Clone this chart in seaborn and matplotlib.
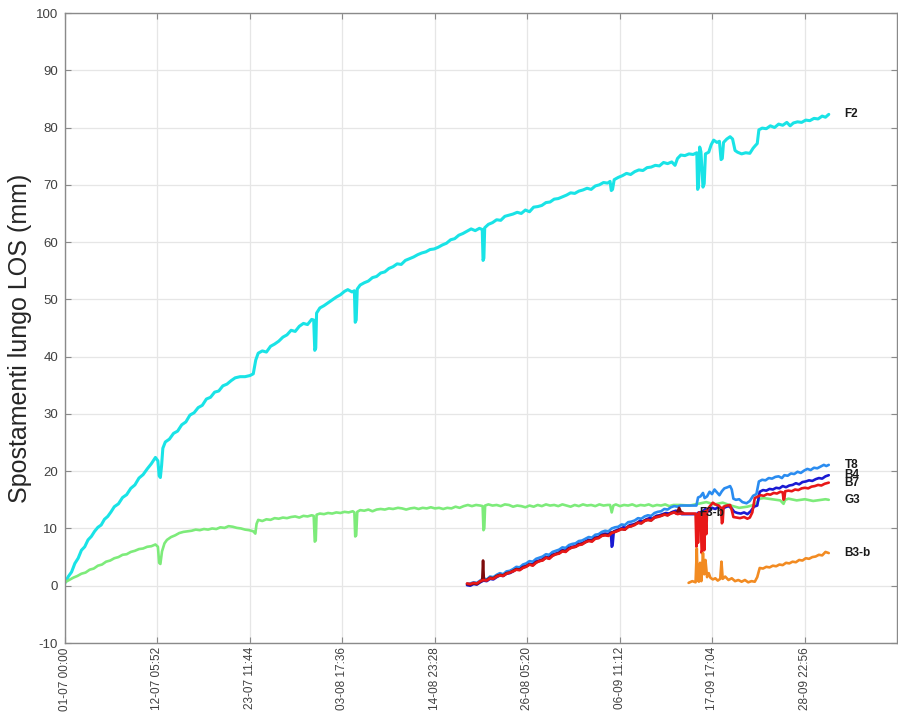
import matplotlib
matplotlib.use("Agg")
import matplotlib.pyplot as plt
import pandas as pd
import seaborn as sns

# ---------------------------------------------------------------------------
# Displacement along the line of sight, in mm; time in days from 01-07 00:00
# ---------------------------------------------------------------------------
f2_days = [0.0, 0.4, 0.8, 1.2, 1.6, 2.0, 2.4, 2.8, 3.2, 3.6, 4.0, 4.4, 4.8, 5.2, 5.6,
           6.0, 6.5, 7.0, 7.5, 8.0, 8.5, 9.0, 9.5, 10.0, 10.5, 11.0, 11.3, 11.45, 11.6,
           11.75, 11.9, 12.2, 12.7, 13.2, 13.7, 14.2, 14.7, 15.2, 15.7, 16.2, 16.7, 17.2,
           17.7, 18.2, 18.7, 19.2, 19.7, 20.2, 20.7, 21.3, 21.9, 22.5, 22.9, 23.2, 23.5,
           24.0, 24.5, 25.0, 25.5, 26.0, 26.5, 27.0, 27.5, 28.0, 28.5, 29.0, 29.5, 30.0,
           30.25, 30.38, 30.5, 30.6, 31.0, 31.5, 32.0, 32.5, 33.0, 33.5, 34.0, 34.4, 34.9,
           35.2, 35.3, 35.42, 35.55, 35.9, 36.4, 36.9, 37.4, 37.9, 38.4, 38.9, 39.4, 39.9,
           40.4, 40.9, 41.4, 41.9, 42.4, 42.9, 43.4, 43.9, 44.4, 44.9, 45.4, 45.9, 46.4,
           46.9, 47.4, 47.9, 48.4, 48.9, 49.4, 49.9, 50.4, 50.75, 50.85, 50.95, 51.05,
           51.5, 52.0, 52.5, 53.0, 53.5, 54.0, 54.5, 55.0, 55.5, 56.0, 56.5, 57.0, 57.5,
           58.0, 58.5, 59.0, 59.5, 60.0, 60.5, 61.0, 61.5, 62.0, 62.5, 63.0, 63.5, 64.0,
           64.5, 65.0, 65.5, 66.0, 66.3, 66.45, 66.6, 66.8, 67.3, 67.8, 68.3, 68.8, 69.3,
           69.8, 70.3, 70.8, 71.3, 71.8, 72.3, 72.8, 73.3, 73.8, 74.2, 74.5, 74.9, 75.4,
           75.9, 76.4, 76.85, 76.95, 77.05, 77.2, 77.35, 77.6, 77.75, 77.9, 78.3, 78.6,
           78.9, 79.3, 79.6, 79.8, 79.95, 80.1, 80.5, 80.9, 81.2, 81.5, 81.8, 82.3, 82.8,
           83.3, 83.7, 84.0, 84.2, 84.4, 84.8, 85.3, 85.8, 86.3, 86.8, 87.3, 87.8, 88.2,
           88.6, 89.1, 89.6, 90.1, 90.6, 91.1, 91.6, 92.1, 92.5, 92.9]
f2_mm = [0.5, 1.6, 2.4, 3.9, 4.8, 6.2, 6.8, 8.0, 8.6, 9.5, 10.2, 10.6, 11.6, 12.1, 12.9,
         13.8, 14.3, 15.4, 15.9, 17.0, 17.6, 18.8, 19.4, 20.4, 21.3, 22.4, 21.8, 19.2, 18.9,
         21.0, 24.0, 25.1, 25.6, 26.6, 27.0, 28.1, 28.6, 29.8, 30.2, 31.1, 31.5, 32.6,
         32.9, 33.8, 34.0, 34.9, 35.2, 35.8, 36.3, 36.5, 36.5, 36.7, 37.0, 39.4, 40.6,
         41.0, 40.8, 41.8, 42.2, 42.7, 43.4, 43.8, 44.6, 44.4, 45.3, 45.8, 45.6, 46.5,
         46.4, 41.1, 41.5, 47.6, 48.5, 48.9, 49.4, 49.9, 50.4, 50.8, 51.4, 51.7, 51.3,
         51.5, 46.0, 46.4, 51.8, 52.5, 52.9, 53.2, 53.8, 54.0, 54.6, 54.8, 55.4, 55.7,
         56.2, 56.1, 56.8, 57.1, 57.4, 57.8, 58.1, 58.3, 58.7, 58.8, 59.1, 59.5, 59.8,
         60.4, 60.6, 61.2, 61.5, 61.9, 62.3, 62.0, 62.4, 62.2, 56.8, 57.2, 62.5,
         63.1, 63.4, 63.9, 63.8, 64.5, 64.7, 64.9, 65.2, 65.0, 65.6, 65.3, 66.1, 66.2,
         66.4, 66.9, 67.0, 67.5, 67.6, 67.9, 68.2, 68.6, 68.5, 68.9, 69.1, 69.4, 69.2,
         69.8, 70.0, 70.4, 70.3, 70.6, 69.0, 69.2, 70.9, 71.3, 71.6, 72.0, 71.8, 72.3,
         72.6, 72.5, 73.0, 73.1, 73.4, 73.3, 73.9, 73.7, 74.0, 73.4, 74.6, 75.2, 75.1,
         75.4, 75.3, 75.6, 69.2, 69.6, 76.6, 75.8, 69.6, 70.2, 75.4, 75.7, 77.0,
         77.8, 77.4, 77.6, 74.4, 74.6, 77.4, 78.0, 78.4, 78.0, 76.0, 75.7, 75.4, 75.6,
         75.5, 76.4, 76.9, 77.2, 79.6, 79.9, 79.8, 80.3, 80.0, 80.6, 80.4, 80.9, 80.3,
         80.8, 81.0, 80.9, 81.3, 81.2, 81.6, 81.5, 82.0, 81.8, 82.3]

g3_days = [0.0, 0.5, 1.0, 1.5, 2.0, 2.5, 3.0, 3.5, 4.0, 4.5, 5.0, 5.5, 6.0, 6.5, 7.0, 7.5,
           8.0, 8.5, 9.0, 9.5, 10.0, 10.5, 11.0, 11.3, 11.45, 11.6, 11.8, 12.1, 12.4, 12.9,
           13.4, 13.9, 14.4, 14.9, 15.4, 15.9, 16.4, 16.9, 17.4, 17.9, 18.4, 18.9, 19.4,
           19.9, 20.4, 20.9, 21.4, 21.9, 22.4, 22.9, 23.15, 23.3, 23.5, 24.0, 24.5, 25.0,
           25.5, 26.0, 26.5, 27.0, 27.5, 28.0, 28.5, 29.0, 29.5, 30.0, 30.25, 30.38, 30.5,
           30.6, 31.0, 31.5, 32.0, 32.5, 33.0, 33.5, 34.0, 34.5, 35.0, 35.2, 35.3, 35.42,
           35.55, 35.9, 36.4, 36.9, 37.4, 37.9, 38.4, 38.9, 39.4, 39.9, 40.5, 41.0, 41.5,
           42.0, 42.5, 43.0, 43.5, 44.0, 44.5, 45.0, 45.5, 46.0, 46.5, 47.0, 47.5, 48.0,
           48.5, 49.0, 49.5, 50.0, 50.5, 50.8, 50.9, 51.0, 51.1, 51.5, 52.0, 52.5, 53.0,
           53.5, 54.0, 54.5, 55.0, 55.5, 56.0, 56.5, 57.0, 57.5, 58.0, 58.5, 59.0, 59.5,
           60.0, 60.5, 61.0, 61.5, 62.0, 62.5, 63.0, 63.5, 64.0, 64.5, 65.0, 65.5, 66.0,
           66.3, 66.5, 66.7, 67.0, 67.5, 68.0, 68.5, 69.0, 69.5, 70.0, 70.5, 71.0, 71.5,
           72.0, 72.5, 73.0, 73.5, 74.0, 74.8, 76.0, 77.0, 78.0, 79.0, 80.0, 81.0, 82.0,
           83.0, 84.0, 84.5, 85.0, 86.0, 87.0, 87.4, 87.6, 88.0, 89.0, 90.0, 91.0, 92.0,
           92.5, 92.9]
g3_mm = [0.6, 1.0, 1.4, 1.7, 2.1, 2.3, 2.8, 3.0, 3.5, 3.7, 4.2, 4.4, 4.8, 5.0, 5.4, 5.5,
         5.9, 6.1, 6.4, 6.5, 6.8, 6.9, 7.2, 6.8, 4.0, 3.8, 6.0, 7.4, 8.0, 8.5,
         8.8, 9.2, 9.4, 9.5, 9.6, 9.8, 9.7, 9.9, 9.8, 10.0, 9.9, 10.2, 10.1,
         10.4, 10.3, 10.1, 10.0, 9.8, 9.7, 9.5, 9.1, 10.8, 11.5, 11.3, 11.6, 11.5,
         11.8, 11.7, 11.9, 11.8, 12.0, 12.1, 11.9, 12.2, 12.1, 12.3, 12.2, 7.7, 7.9,
         12.4, 12.6, 12.5, 12.7, 12.6, 12.8, 12.7, 12.9, 12.8, 13.0, 12.8, 8.6, 8.8,
         12.9, 13.2, 13.1, 13.3, 13.0, 13.3, 13.4, 13.3, 13.5, 13.4, 13.6, 13.5, 13.3,
         13.5, 13.6, 13.4, 13.6, 13.5, 13.7, 13.5, 13.6, 13.4, 13.6, 13.5, 13.8, 13.6,
         13.9, 14.1, 13.9, 14.1, 14.0, 13.9, 9.7, 10.0, 14.0, 14.2, 14.0, 14.1, 13.9,
         14.2, 14.1, 13.8, 14.0, 13.9, 13.7, 14.0, 13.8, 14.1, 13.9, 14.2, 14.0, 14.1,
         13.9, 14.2, 14.0, 13.8, 14.1, 13.9, 14.2, 14.0, 14.1, 13.9, 14.2, 14.0, 14.1,
         14.1, 12.8, 14.0, 14.2, 13.9, 14.1, 14.0, 14.2, 13.9, 14.1, 14.0, 14.2, 13.9,
         14.1, 14.0, 14.2, 13.9, 14.1, 14.1, 14.0, 14.3, 14.6, 14.2, 14.5, 14.0, 13.6,
         13.8, 14.2, 15.2, 15.3, 15.1, 14.9, 14.3, 15.0, 15.2, 14.9, 15.1, 14.8, 15.0,
         15.1, 15.0]

t8_days = [48.9, 49.3, 49.7, 50.1, 50.5, 50.9, 51.3, 51.7, 52.1, 52.5, 52.9, 53.3, 53.7,
           54.1, 54.5, 54.9, 55.3, 55.7, 56.1, 56.5, 56.9, 57.3, 57.7, 58.1, 58.5, 58.9,
           59.3, 59.7, 60.1, 60.5, 60.9, 61.3, 61.7, 62.1, 62.5, 62.9, 63.3, 63.7, 64.1,
           64.5, 64.9, 65.3, 65.7, 66.1, 66.5, 66.9, 67.3, 67.7, 68.1, 68.5, 68.9, 69.3,
           69.7, 70.1, 70.5, 70.9, 71.3, 71.7, 72.1, 72.5, 72.9, 73.3, 73.7, 74.1, 74.5,
           74.9, 76.8, 77.0, 77.3, 77.6, 77.8, 78.1, 78.4, 78.7, 79.0, 79.3, 79.6, 79.9,
           80.2, 80.6, 80.9, 81.1, 81.3, 81.6, 82.0, 82.4, 82.9, 83.3, 83.7, 84.1, 84.4,
           84.8, 85.2, 85.6, 86.0, 86.4, 86.8, 87.2, 87.5, 87.9, 88.3, 88.7, 89.1, 89.5,
           89.9, 90.3, 90.7, 91.1, 91.5, 91.9, 92.3, 92.6, 92.9]
t8_mm = [0.3, 0.4, 0.6, 0.5, 0.9, 1.3, 1.1, 1.6, 1.5, 1.9, 2.2, 2.0, 2.5,
         2.6, 2.9, 3.3, 3.2, 3.7, 3.9, 4.3, 4.2, 4.7, 4.9, 5.1, 5.5, 5.4,
         5.9, 6.1, 6.3, 6.7, 6.6, 7.1, 7.3, 7.4, 7.8, 7.9, 8.2, 8.5, 8.4,
         8.9, 9.0, 9.4, 9.6, 9.5, 10.0, 10.2, 10.3, 10.7, 10.6, 11.1, 11.2, 11.4,
         11.8, 11.7, 12.1, 12.3, 12.2, 12.7, 12.9, 13.0, 13.4, 13.3, 13.7, 13.9, 13.8,
         14.0, 14.0, 15.4, 15.6, 16.2, 15.3, 15.6, 16.4, 16.0, 16.8, 16.3, 15.8, 16.5,
         17.0, 17.2, 17.4, 16.8, 15.2, 15.0, 15.1, 14.6, 14.4, 14.8, 15.7, 16.0, 18.2,
         18.5, 18.4, 18.8, 18.7, 19.0, 19.1, 18.8, 19.3, 19.2, 19.6, 19.5, 19.9, 19.7,
         20.1, 20.4, 20.2, 20.6, 20.5, 20.8, 21.1, 20.9, 21.1]

b4_days = [48.9, 49.3, 49.7, 50.1, 50.5, 50.9, 51.3, 51.7, 52.1, 52.5, 52.9, 53.3, 53.7,
           54.1, 54.5, 54.9, 55.3, 55.7, 56.1, 56.5, 56.9, 57.3, 57.7, 58.1, 58.5, 58.9,
           59.3, 59.7, 60.1, 60.5, 60.9, 61.3, 61.7, 62.1, 62.5, 62.9, 63.3, 63.7, 64.1,
           64.5, 64.9, 65.3, 65.7, 66.1, 66.4, 66.5, 66.6, 66.75, 67.1, 67.5, 67.9, 68.3,
           68.7, 69.1, 69.5, 69.9, 70.3, 70.7, 71.1, 71.5, 71.9, 72.3, 72.7, 73.1, 73.5,
           73.9, 74.3, 74.7, 75.0, 76.8, 77.1, 77.5, 77.9, 78.3, 78.7, 79.1, 79.5, 79.9,
           80.3, 80.7, 81.1, 81.4, 81.8, 82.2, 82.6, 83.0, 83.4, 83.8, 84.2, 84.5, 84.9,
           85.3, 85.7, 86.1, 86.5, 86.9, 87.3, 87.7, 88.1, 88.5, 88.9, 89.3, 89.7, 90.1,
           90.5, 90.9, 91.3, 91.7, 92.1, 92.5, 92.9]
b4_mm = [0.1, 0.0, 0.3, 0.2, 0.6, 0.9, 0.8, 1.2, 1.1, 1.5, 1.8, 1.7, 2.1,
         2.2, 2.5, 2.9, 2.8, 3.3, 3.4, 3.8, 3.7, 4.2, 4.4, 4.6, 5.0, 4.9,
         5.4, 5.6, 5.8, 6.2, 6.1, 6.6, 6.8, 6.9, 7.3, 7.4, 7.7, 8.0, 7.9,
         8.4, 8.5, 8.9, 9.1, 9.0, 9.3, 6.8, 7.0, 9.5, 9.7, 9.9, 10.2, 10.1,
         10.6, 10.7, 10.9, 11.3, 11.2, 11.6, 11.8, 11.7, 12.2, 12.3, 12.5, 12.7, 12.6,
         12.9, 13.1, 12.9, 12.5, 12.5, 12.8, 12.9, 13.4, 13.0, 13.6, 13.4, 13.8, 13.3,
         13.7, 13.9, 13.5, 12.9, 12.7, 12.6, 12.8, 12.5, 13.0, 13.8, 14.0, 16.4, 16.7,
         16.6, 16.9, 16.8, 17.1, 17.0, 17.4, 17.2, 17.5, 17.6, 17.9, 17.7, 18.1, 18.2,
         18.4, 18.3, 18.6, 18.8, 18.7, 19.1, 19.3]

f3b_days = [48.9, 49.3, 49.7, 50.1, 50.5, 50.75, 50.85, 50.95, 51.3, 51.7, 52.1, 52.5,
            52.9, 53.3, 53.7, 54.1, 54.5, 54.9, 55.3, 55.7, 56.1, 56.5, 56.9, 57.3, 57.7,
            58.1, 58.5, 58.9, 59.3, 59.7, 60.1, 60.5, 60.9, 61.3, 61.7, 62.1, 62.5, 62.9,
            63.3, 63.7, 64.1, 64.5, 64.9, 65.3, 65.7, 66.1, 66.5, 66.9, 67.3, 67.7, 68.1,
            68.5, 68.9, 69.3, 69.7, 70.1, 70.5, 70.9, 71.3, 71.7, 72.1, 72.5, 72.9, 73.3,
            73.7, 74.1, 74.4, 74.7, 74.9, 75.2]
f3b_mm = [0.3, 0.2, 0.4, 0.3, 0.7, 0.9, 4.4, 1.0, 1.0, 1.4, 1.3, 1.7,
          1.9, 1.8, 2.2, 2.3, 2.6, 2.9, 2.8, 3.2, 3.4, 3.7, 3.6, 4.1, 4.3,
          4.5, 4.9, 4.8, 5.3, 5.5, 5.7, 6.1, 6.0, 6.5, 6.7, 6.8, 7.2, 7.3,
          7.6, 7.9, 7.8, 8.3, 8.4, 8.8, 8.9, 8.8, 9.3, 9.4, 9.7, 9.9, 9.8,
          10.3, 10.4, 10.7, 11.0, 10.9, 11.4, 11.5, 11.4, 11.9, 12.1, 12.2, 12.5, 12.3,
          12.7, 12.8, 12.6, 13.6, 12.9, 12.7]

b7_days = [48.9, 49.3, 49.7, 50.1, 50.5, 50.9, 51.3, 51.7, 52.1, 52.5, 52.9, 53.3, 53.7,
           54.1, 54.5, 54.9, 55.3, 55.7, 56.1, 56.5, 56.9, 57.3, 57.7, 58.1, 58.5, 58.9,
           59.3, 59.7, 60.1, 60.5, 60.9, 61.3, 61.7, 62.1, 62.5, 62.9, 63.3, 63.7, 64.1,
           64.5, 64.9, 65.3, 65.7, 66.1, 66.5, 66.9, 67.3, 67.7, 68.1, 68.5, 68.9, 69.3,
           69.7, 70.1, 70.5, 70.9, 71.3, 71.7, 72.1, 72.5, 72.9, 73.3, 73.7, 74.1, 74.5,
           74.8, 76.7, 76.8, 76.9, 77.0, 77.1, 77.3, 77.45, 77.55, 77.65, 77.75, 77.85,
           78.0, 78.1, 78.4, 78.8, 79.1, 79.5, 79.8, 79.9, 80.0, 80.1, 80.5, 80.9, 81.1,
           81.3, 81.7, 82.1, 82.6, 83.0, 83.3, 83.6, 83.9, 84.3, 84.6, 85.0, 85.4, 85.8,
           86.2, 86.6, 87.0, 87.3, 87.4, 87.5, 87.6, 88.0, 88.4, 88.8, 89.2, 89.6, 90.0,
           90.4, 90.8, 91.2, 91.6, 92.0, 92.4, 92.9]
b7_mm = [0.4, 0.3, 0.5, 0.4, 0.8, 1.0, 0.9, 1.3, 1.2, 1.6, 1.8, 1.7, 2.1,
         2.3, 2.5, 2.8, 2.7, 3.1, 3.3, 3.7, 3.5, 4.0, 4.3, 4.4, 4.9, 4.7,
         5.2, 5.5, 5.6, 6.0, 5.9, 6.4, 6.7, 6.8, 7.1, 7.2, 7.6, 7.8, 7.7,
         8.2, 8.3, 8.7, 8.8, 8.7, 9.2, 9.4, 9.6, 9.9, 9.8, 10.3, 10.4, 10.6,
         11.0, 10.9, 11.3, 11.5, 11.4, 11.9, 12.0, 12.2, 12.4, 12.3, 12.6, 12.8, 12.5,
         12.6, 12.6, 6.8, 12.4, 7.5, 12.8, 12.5, 5.7, 6.5, 12.7, 6.2, 13.0,
         9.0, 13.2, 13.8, 14.5, 14.2, 14.0, 13.6, 10.9, 11.2, 13.8, 14.0, 14.1, 13.2,
         12.0, 11.9, 11.8, 12.0, 11.7, 11.9, 12.8, 15.3, 15.6, 15.8, 15.7, 16.0, 15.9,
         16.2, 16.1, 16.4, 16.3, 15.0, 15.2, 16.5, 16.6, 16.5, 16.8, 16.7, 17.0, 17.1,
         17.0, 17.3, 17.4, 17.6, 17.5, 17.8, 18.0]

b3b_days = [75.85, 76.3, 76.7, 76.85, 76.95, 77.1, 77.25, 77.4, 77.6, 77.75, 77.9, 78.1,
            78.3, 78.5, 78.8, 79.1, 79.4, 79.7, 79.85, 80.0, 80.3, 80.7, 81.1, 81.5, 81.9,
            82.3, 82.7, 83.1, 83.5, 83.9, 84.2, 84.5, 84.9, 85.3, 85.7, 86.1, 86.5, 86.9,
            87.3, 87.7, 88.1, 88.5, 88.9, 89.3, 89.7, 90.1, 90.5, 90.9, 91.3, 91.7, 92.1,
            92.5, 92.9]
b3b_mm = [0.5, 0.8, 0.6, 6.5, 1.0, 0.7, 4.0, 0.8, 5.7, 2.0, 4.5, 1.5,
          2.2, 1.4, 1.1, 1.3, 0.9, 1.2, 4.2, 1.2, 1.6, 1.0, 1.3, 0.8, 1.0,
          0.7, 1.0, 0.6, 0.8, 0.7, 1.5, 3.1, 3.0, 3.3, 3.2, 3.5, 3.4, 3.7,
          3.6, 4.0, 3.9, 4.2, 4.1, 4.5, 4.4, 4.8, 4.7, 5.0, 5.1, 5.4, 5.3,
          5.9, 5.7]

# axis ticks: one every 11 days 5 h 52 min
tick_step_days = 11 + (5 * 60 + 52) / 1440.0
tick_labels = ["01-07 00:00", "12-07 05:52", "23-07 11:44", "03-08 17:36",
               "14-08 23:28", "26-08 05:20", "06-09 11:12", "17-09 17:04",
               "28-09 22:56"]
y_ticks = [-10, 0, 10, 20, 30, 40, 50, 60, 70, 80, 90, 100]

# series drawn back to front
series = [
    ("F2", f2_days, f2_mm, "#19e3e6", 2.2),
    ("G3", g3_days, g3_mm, "#7deb7a", 1.9),
    ("T8", t8_days, t8_mm, "#2a8cf0", 1.9),
    ("B4", b4_days, b4_mm, "#1a1ad2", 1.9),
    ("F3-b", f3b_days, f3b_mm, "#7d0a0a", 1.9),
    ("B7", b7_days, b7_mm, "#e81818", 1.9),
    ("B3-b", b3b_days, b3b_mm, "#f28b22", 1.9),
]

sns.set_style("whitegrid", {"grid.color": "#e6e6e6", "axes.edgecolor": "#8a8a8a"})
plt.rcParams["font.family"] = ["Liberation Sans", "DejaVu Sans"]

fig = plt.figure(figsize=(8.98, 7.15), dpi=100)
ax = fig.add_axes([65 / 898, 72 / 715, 832 / 898, 630 / 715])

for name, days, mm, colour, lw in series:
    df = pd.DataFrame({"day": days, "mm": mm})
    sns.lineplot(data=df, x="day", y="mm", color=colour, linewidth=lw,
                 estimator=None, sort=False, ax=ax)
    ax.annotate(name, xy=(days[-1], mm[-1]), xytext=(11.3, 0),
                textcoords="offset points", ha="left", va="center",
                fontsize=8.5, fontweight="bold", color="#1a1a1a")

ax.set_xlim(0, 9 * tick_step_days)
ax.set_ylim(-10, 100)
ax.set_xticks([i * tick_step_days for i in range(len(tick_labels))])
ax.set_xticklabels(tick_labels, rotation=90, fontsize=8.5, color="#404040")
ax.set_yticks(y_ticks)
ax.set_yticklabels([str(v) for v in y_ticks], fontsize=9.5, color="#404040")
ax.tick_params(axis="both", direction="in", length=4, width=0.8, color="#8a8a8a",
               top=True, right=True, bottom=True, left=True)
ax.tick_params(axis="x", pad=3)
ax.tick_params(axis="y", pad=5)
ax.grid(True, color="#e6e6e6", linewidth=0.9)
for side in ax.spines.values():
    side.set_visible(True)
    side.set_linewidth(1.0)
    side.set_color("#8a8a8a")

ax.set_xlabel("")
ax.set_ylabel("Spostamenti lungo LOS (mm)", fontsize=18, color="#262626")
ax.yaxis.set_label_coords(-0.040, 0.484)

fig.savefig("out.png", dpi=100)
